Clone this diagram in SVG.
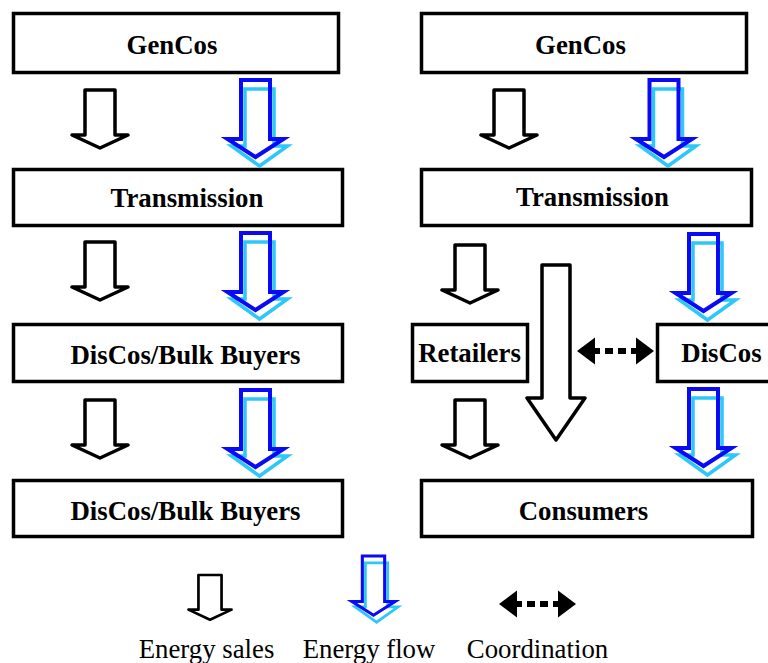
<svg xmlns="http://www.w3.org/2000/svg" xmlns:xlink="http://www.w3.org/1999/xlink" width="768" height="663" viewBox="0 0 768 663">
<style>
.box{fill:#fff;stroke:#000;stroke-width:3.5}
.lbl{font-weight:bold;font-size:26.8px;text-anchor:middle;fill:#000}
.leg{font-size:26.8px;text-anchor:middle;fill:#000}
.sale{fill:#fff;stroke:#000;stroke-width:3.5;stroke-linejoin:round}
.flowb{fill:none;stroke:#0a0af5;stroke-width:4}
.flowc{fill:none;stroke:#2ec8f8;stroke-width:3.5}
</style>
<defs>
<path id="sale" d="M-15 0H15V45H28L0 58L-28 45H-15Z"/>
<g id="flow">
<path class="flowc" d="M-10.5 9H18.5V66H32L4 86L-24 66H-10.5Z"/>
<path class="flowb" d="M-14.5 0H14.5V59H28L0 77L-28 59H-14.5Z"/>
</g>
<g id="coord">
<path d="M0 0L18 -13.5V13.5Z" fill="#000"/>
<path d="M77 0L59 -13.5V13.5Z" fill="#000"/>
<rect x="17" y="-3" width="6" height="6" fill="#000"/>
<rect x="28" y="-3" width="8" height="6" fill="#000"/>
<rect x="41" y="-3" width="8" height="6" fill="#000"/>
<rect x="54" y="-3" width="6" height="6" fill="#000"/>
</g>
</defs>
<g font-family="'Liberation Serif', 'Times New Roman', 'DejaVu Serif', serif">
<g id="gencos-left"><rect class="box" x="13.5" y="13.5" width="325" height="59"/><text class="lbl" x="172" y="54">GenCos</text></g>
<g id="transmission-left"><rect class="box" x="13.5" y="169.5" width="329" height="56"/><text class="lbl" x="187" y="207">Transmission</text></g>
<g id="discos-bulk-1"><rect class="box" x="13.5" y="324.5" width="329" height="57"/><text class="lbl" x="185.5" y="364">DisCos/Bulk Buyers</text></g>
<g id="discos-bulk-2"><rect class="box" x="13.5" y="480.5" width="329" height="56"/><text class="lbl" x="185.5" y="520">DisCos/Bulk Buyers</text></g>
<g id="gencos-right"><rect class="box" x="421.5" y="13.5" width="325" height="59"/><text class="lbl" x="580.5" y="54">GenCos</text></g>
<g id="transmission-right"><rect class="box" x="421.5" y="169.5" width="330" height="56"/><text class="lbl" x="592.5" y="206">Transmission</text></g>
<g id="retailers"><rect class="box" x="412.5" y="324.5" width="115" height="57"/><text class="lbl" x="469.5" y="362">Retailers</text></g>
<g id="discos-right"><rect class="box" x="657.5" y="324.5" width="130" height="57"/><text class="lbl" x="721.5" y="362">DisCos</text></g>
<g id="consumers"><rect class="box" x="421.5" y="480.5" width="331" height="56"/><text class="lbl" x="583.5" y="520">Consumers</text></g>
<g id="connectors">
<use xlink:href="#sale" href="#sale" class="sale" transform="translate(100,90)"/>
<use xlink:href="#sale" href="#sale" class="sale" transform="translate(100,242)"/>
<use xlink:href="#sale" href="#sale" class="sale" transform="translate(100,400)"/>
<use xlink:href="#flow" href="#flow" transform="translate(255.5,80)"/>
<use xlink:href="#flow" href="#flow" transform="translate(255.5,233)"/>
<use xlink:href="#flow" href="#flow" transform="translate(255.5,390)"/>
<use xlink:href="#sale" href="#sale" class="sale" transform="translate(509,90)"/>
<use xlink:href="#flow" href="#flow" transform="translate(664,80)"/>
<use xlink:href="#sale" href="#sale" class="sale" transform="translate(470,245)"/>
<use xlink:href="#sale" href="#sale" class="sale" transform="translate(470,400)"/>
<path class="sale" d="M542 265H570V398H585L556 440L527 398H542Z"/>
<use xlink:href="#flow" href="#flow" transform="translate(703.5,234)"/>
<use xlink:href="#flow" href="#flow" transform="translate(703.5,389)"/>
<use xlink:href="#coord" href="#coord" transform="translate(577,351)"/>
</g>
<g id="legend">
<use xlink:href="#sale" href="#sale" class="sale" transform="translate(210,575) scale(0.77)"/>
<use xlink:href="#flow" href="#flow" transform="translate(373.5,556) scale(0.77)"/>
<use xlink:href="#coord" href="#coord" transform="translate(499,604)"/>
<text class="leg" x="206.5" y="658">Energy sales</text>
<text class="leg" x="369" y="658">Energy flow</text>
<text class="leg" x="537.5" y="658">Coordination</text>
</g>
</g>
</svg>
